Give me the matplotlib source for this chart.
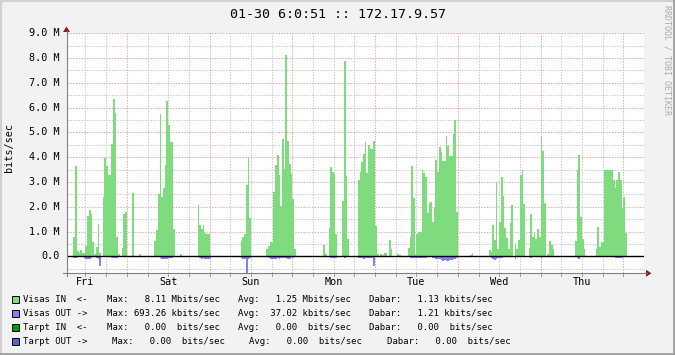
import matplotlib
matplotlib.use('Agg')
import matplotlib.pyplot as plt
from matplotlib.lines import Line2D
from matplotlib.patches import Polygon, Rectangle

# half-hour samples, Mbit/s, one list per day starting at midnight
days = ['Fri', 'Sat', 'Sun', 'Mon', 'Tue', 'Wed', 'Thu']

fri_in = [0, 0, 0, 0, 0, 0, 0, 0, 0, 0, 0, 0, 0, 0, 0, 0,
          0, 0.80, 3.63, 0.20, 0.15, 0.24, 0.13, 0.13, 0.43, 1.61, 1.85, 1.69, 0.56, 0.08, 0.38, 1.29,
          0.12, 0, 2.39, 3.95, 3.63, 3.27, 3.27, 4.53, 6.33, 5.80, 0.78, 0.10, 0, 0.34, 1.69, 1.77]
sat_in = [0, 0, 0, 2.54, 0, 0, 0, 0.10, 0, 0, 0, 0, 0, 0, 0, 0,
          0.60, 1.05, 2.50, 5.73, 2.38, 2.76, 3.70, 6.25, 5.30, 4.60, 4.60, 1.09, 0, 0, 0, 0.08,
          0, 0, 0, 0, 0, 0, 0, 0, 0, 2.06, 1.25, 1.09, 1.25, 0.93, 0.89, 0.89]
sun_in = [0.10, 0, 0, 0, 0, 0, 0, 0, 0, 0, 0, 0, 0, 0, 0, 0,
          0, 0, 0.60, 0.80, 0.89, 2.86, 3.95, 1.53, 0, 0, 0, 0, 0, 0, 0, 0,
          0, 0.28, 0.42, 0.58, 0.54, 2.59, 3.68, 4.09, 3.28, 2.03, 4.73, 3.52, 8.11, 4.65, 3.72, 3.32]
mon_in = [2.31, 0.30, 0, 0, 0, 0, 0, 0, 0, 0, 0, 0, 0, 0, 0, 0,
          0, 0, 0.46, 0.09, 0, 1.14, 3.60, 3.40, 3.32, 0.90, 0, 0, 0, 2.23, 7.88, 3.24,
          0.70, 0, 0, 0, 0, 0, 3.08, 3.40, 3.80, 4.12, 4.60, 3.36, 4.48, 4.35, 4.35, 4.64]
tue_in = [1.21, 0.10, 0, 0.08, 0.04, 0.12, 0.12, 0, 0.65, 0.28, 0, 0, 0, 0.08, 0.04, 0,
          0, 0, 0, 0.32, 0.80, 3.63, 2.34, 0.08, 0.89, 1.00, 1.00, 3.50, 3.35, 3.22, 1.73, 2.14,
          2.20, 1.37, 2.00, 3.90, 3.39, 4.40, 4.23, 3.83, 3.83, 4.84, 4.44, 4.03, 4.03, 4.92, 5.52, 1.77]
wed_in = [0, 0, 0, 0, 0, 0, 0, 0.04, 0.12, 0, 0, 0, 0, 0, 0, 0,
          0, 0, 0.24, 0.16, 1.25, 0.65, 2.98, 0.28, 1.37, 3.22, 2.42, 1.13, 0.73, 0.28, 1.33, 2.06,
          0, 0.52, 0.28, 0.65, 3.30, 3.47, 2.10, 0, 0, 0.32, 1.69, 0.80, 0.93, 0.69, 1.09, 0.80]
thu_in = [4.80, 4.27, 2.14, 0, 0.08, 0.60, 0.44, 0.28, 0, 0, 0, 0, 0, 0, 0, 0,
          0, 0, 0, 0, 0.60, 3.50, 4.07, 1.57, 0.69, 0.30, 0, 0, 0, 0, 0, 0,
          0.28, 1.17, 0.36, 0.56, 0.56, 3.50, 3.50, 3.50, 3.50, 3.50, 3.10, 2.74, 3.10, 3.40, 3.06, 1.94]
fri2_in = [2.38, 0.93, 0, 0, 0, 0, 0, 0, 0, 0, 0, 0]

fri_out = [0, 0, 0, 0, 0, 0, 0, 0, 0, 0, 0, 0, 0, 0, 0, 0,
           0, 0.05, 0.05, 0, 0, 0, 0, 0.08, 0.10, 0.10, 0.10, 0.08, 0, 0, 0.08, 0.10,
           0.39, 0, 0, 0, 0, 0, 0, 0.07, 0.07, 0.08, 0.05, 0, 0, 0, 0, 0]
sat_out = [0, 0, 0, 0, 0, 0, 0, 0, 0, 0, 0, 0, 0, 0, 0, 0,
           0, 0, 0, 0.08, 0.10, 0.10, 0.10, 0.10, 0.08, 0.08, 0.05, 0, 0, 0, 0, 0,
           0, 0, 0, 0, 0, 0, 0, 0, 0, 0, 0.08, 0.10, 0.08, 0.10, 0.10, 0.10]
sun_out = [0.05, 0, 0, 0, 0, 0, 0, 0, 0, 0, 0, 0, 0, 0, 0, 0,
           0, 0, 0.08, 0.10, 0.10, 0.69, 0.10, 0.08, 0, 0, 0, 0, 0, 0, 0, 0,
           0, 0, 0.08, 0.10, 0.12, 0.10, 0.12, 0.08, 0.10, 0.06, 0.08, 0.05, 0.08, 0.10, 0.10, 0]
mon_out = [0.05, 0, 0, 0, 0, 0, 0, 0, 0, 0, 0, 0, 0, 0, 0, 0,
           0, 0, 0, 0, 0, 0, 0.05, 0.06, 0.05, 0.05, 0, 0, 0, 0, 0.05, 0,
           0, 0, 0, 0, 0, 0, 0.06, 0.08, 0.08, 0.10, 0.08, 0.08, 0.06, 0.08, 0.06, 0.39]
tue_out = [0.03, 0, 0, 0, 0, 0, 0, 0, 0, 0, 0, 0, 0, 0, 0, 0,
           0, 0, 0, 0, 0.05, 0.08, 0.08, 0.06, 0.08, 0.08, 0.05, 0.08, 0.06, 0.05, 0, 0,
           0, 0.05, 0.08, 0.10, 0.12, 0.12, 0.15, 0.20, 0.15, 0.20, 0.18, 0.15, 0.15, 0.12, 0.12, 0.05]
wed_out = [0, 0, 0, 0, 0, 0, 0, 0, 0, 0, 0, 0, 0, 0, 0, 0,
           0, 0, 0, 0.06, 0.10, 0.16, 0.12, 0.08, 0.06, 0.06, 0, 0, 0, 0, 0, 0,
           0, 0.10, 0, 0, 0, 0, 0, 0, 0, 0, 0.05, 0.04, 0, 0, 0, 0]
thu_out = [0.05, 0, 0, 0, 0, 0, 0, 0, 0, 0, 0, 0, 0, 0, 0, 0,
           0, 0, 0, 0, 0, 0.08, 0.10, 0, 0, 0, 0, 0, 0, 0, 0, 0,
           0, 0, 0, 0, 0, 0, 0, 0, 0, 0, 0.04, 0.05, 0.05, 0.05, 0.06, 0.05]
fri2_out = [0, 0, 0, 0, 0, 0, 0, 0, 0, 0, 0, 0]

in_days = [fri_in, sat_in, sun_in, mon_in, tue_in, wed_in, thu_in, fri2_in]
out_days = [fri_out, sat_out, sun_out, mon_out, tue_out, wed_out, thu_out, fri2_out]

legend_rows = [
    ('#7EDC7E', 'Visas IN  <-', 'Max:   8.11 Mbits/sec', 'Avg:   1.25 Mbits/sec', 'Dabar:   1.13 kbits/sec'),
    ('#8080FF', 'Visas OUT ->', 'Max: 693.26 kbits/sec', 'Avg:  37.02 kbits/sec', 'Dabar:   1.21 kbits/sec'),
    ('#00A000', 'Tarpt IN  <-', 'Max:   0.00  bits/sec', 'Avg:   0.00  bits/sec', 'Dabar:   0.00  bits/sec'),
    ('#5068CC', 'Tarpt OUT ->', 'Max:   0.00  bits/sec', 'Avg:   0.00  bits/sec', 'Dabar:   0.00  bits/sec'),
]

hours, vin, vout = [], [], []
for d in range(len(in_days)):
    for i in range(len(in_days[d])):
        hours.append(d * 24 + i * 0.5)
        vin.append(in_days[d][i])
        vout.append(-out_days[d][i])

W, H = 675, 355
plt.rcParams['lines.scale_dashes'] = False
mono = 'DejaVu Sans Mono'

fig = plt.figure(figsize=(W / 100, H / 100), dpi=100, facecolor='#F2F2F2')

def fx(x):
    return x / W

def fy(y):
    return 1 - y / H

x0, x1, ytop, ybot = 66.5, 644, 33.3, 273.3
ax = fig.add_axes([fx(x0), fy(ybot), fx(x1) - fx(x0), fy(ytop) - fy(ybot)])
ax.set_facecolor('white')
ax.set_xlim(6.5, 174)
ax.set_ylim(-0.685, 9.0)
for s in ax.spines.values():
    s.set_visible(False)
ax.set_xticks([])
ax.set_yticks([])

dots = (0, (1, 1))
grey = '#C8C8C8'
red = '#E8A8A8'
for v in [k * 0.5 for k in range(-1, 19)]:
    if v == 0:
        continue
    ax.axhline(v, color=red if v == int(v) else grey, lw=0.72, ls=dots, zorder=0)
for h in range(12, 174, 6):
    ax.axvline(h, color=red if h % 24 == 0 else grey, lw=0.72, ls=dots, zorder=0)

ax.bar(hours, vin, width=0.5, align='edge', color='#7EDC7E', linewidth=0, zorder=2)
ax.bar(hours, vout, width=0.5, align='edge', color='#8080FF', linewidth=0, zorder=2)
ax.axhline(0, color='black', lw=1.0, zorder=3)

# y tick labels
for v in range(0, 10):
    lab = '0.0' if v == 0 else '%d.0 M' % v
    ax.text(-0.012, v, lab, transform=ax.get_yaxis_transform(), ha='right', va='center',
            family=mono, fontsize=7.3, color='black')
# x tick labels at noon
for k, name in enumerate(days):
    ax.text(12 + 24 * k, -0.017, name, transform=ax.get_xaxis_transform(), ha='center', va='top',
            family=mono, fontsize=7.3, color='black')
# x tick marks
for h in range(12, 174, 6):
    ax.plot([h, h], [0, -0.012], transform=ax.get_xaxis_transform(), clip_on=False,
            color='#D08080' if h % 24 == 0 else '#A0A0A0', lw=0.72)

# axes with arrows
axis_col = '#808080'
fig.add_artist(Line2D([fx(x0), fx(x0)], [fy(276), fy(31)], color=axis_col, lw=0.8))
fig.add_artist(Line2D([fx(63), fx(647)], [fy(ybot), fy(ybot)], color=axis_col, lw=0.8))
fig.add_artist(Polygon([[fx(x0 - 3.5), fy(32)], [fx(x0 + 3.5), fy(32)], [fx(x0), fy(26.5)]],
                       closed=True, color='#901818', lw=0))
fig.add_artist(Polygon([[fx(646), fy(ybot - 3.5)], [fx(646), fy(ybot + 3.5)], [fx(651.5), fy(ybot)]],
                       closed=True, color='#901818', lw=0))

fig.text(fx(338), fy(14), '01-30 6:0:51 :: 172.17.9.57', ha='center', va='center',
         family=mono, fontsize=9.6, color='black')
fig.text(fx(9.5), fy(148), 'bits/sec', rotation=90, ha='center', va='center',
         family=mono, fontsize=7.3, color='black')
fig.text(fx(667), fy(60), 'RRDTOOL / TOBI OETIKER', rotation=270, ha='center', va='center',
         family=mono, fontsize=6.0, color='#AAAAAA')

# legend
row_y = [299.3, 313.3, 327.3, 341.3]
col_x = [[23.3, 106.7, 238.3, 369.3]] * 3 + [[23.3, 112.3, 249.3, 386.7]]
for r, (col, a, b, c, d) in enumerate(legend_rows):
    y = row_y[r]
    fig.add_artist(Rectangle((fx(11.5), fy(y + 3.5)), fx(7), 7 / H, facecolor=col,
                             edgecolor='black', lw=0.7))
    for txt, x in zip([a, b, c, d], col_x[r]):
        fig.text(fx(x), fy(y), txt, ha='left', va='center', family=mono, fontsize=6.5, color='black')

# 3d-ish frame
fig.add_artist(Line2D([0, 1], [fy(0.8), fy(0.8)], color='#D0D0D0', lw=1.5))
fig.add_artist(Line2D([fx(0.8), fx(0.8)], [0, 1], color='#D0D0D0', lw=1.5))
fig.add_artist(Line2D([0, 1], [fy(353.8), fy(353.8)], color='#A0A0A0', lw=2))
fig.add_artist(Line2D([fx(673.8), fx(673.8)], [0, 1], color='#A0A0A0', lw=2))

fig.savefig('out.png', dpi=100, facecolor=fig.get_facecolor())
